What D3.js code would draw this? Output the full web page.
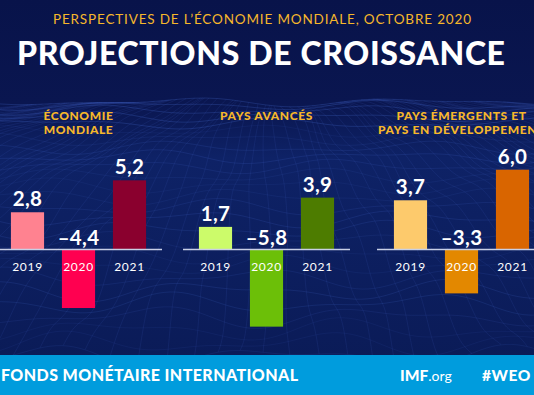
<!DOCTYPE html>
<html><head><meta charset="utf-8">
<script src="https://cdn.jsdelivr.net/npm/d3@7"></script>
<style>html,body{margin:0;padding:0;background:#0a1547;overflow:hidden}svg{display:block}</style>
</head><body>
<svg id="chart" width="534" height="395"></svg>
<script>
// ---- data ----
const years = ["2019", "2020", "2021"];
const groupTitles = [["ÉCONOMIE", "MONDIALE"], ["PAYS AVANCÉS"], ["PAYS ÉMERGENTS ET", "PAYS EN DÉVELOPPEMENT"]];
const worldValues = [2.8, -4.4, 5.2];
const advancedValues = [1.7, -5.8, 3.9];
const emergingValues = [3.7, -3.3, 6.0];
const valueLabels = [["2,8", "–4,4", "5,2"], ["1,7", "–5,8", "3,9"], ["3,7", "–3,3", "6,0"]];
const barColors = [["#ff8290", "#ff0050", "#8a002e"], ["#ccfb6a", "#6cbf08", "#4d7c00"], ["#fdca6c", "#e38800", "#d96500"]];

const svg = d3.select("#chart");
const W = 534, H = 395;
const FONT = "Lato, 'Open Sans', sans-serif";

// stretch a text to a target width with letter-spacing (anchor start)
function fit(sel, target) {
  const n = sel.text().length;
  const len = sel.node().getComputedTextLength();
  sel.attr("letter-spacing", Math.max(0, (target - len) / (n - 1)));
  return sel;
}

// background
const bg = svg.append("defs").append("linearGradient").attr("id", "bgGrad")
  .attr("x1", 0).attr("y1", 0).attr("x2", 0).attr("y2", 1);
bg.append("stop").attr("offset", "0%").attr("stop-color", "#08134a");
bg.append("stop").attr("offset", "26%").attr("stop-color", "#0a1650");
bg.append("stop").attr("offset", "40%").attr("stop-color", "#0e2266");
bg.append("stop").attr("offset", "100%").attr("stop-color", "#0a1a55");
svg.append("rect").attr("width", W).attr("height", H).attr("fill", "url(#bgGrad)");

// decorative wireframe mesh
const mesh = svg.append("g").attr("fill", "none").attr("stroke", "#4468cc").attr("stroke-width", 0.6);
const wave = (x, r) => 6 * Math.sin(x / 38 + r * 0.9) + 4 * Math.cos(x / 23 - r * 0.5);
const rows = d3.range(0, 26);
const line = d3.line().curve(d3.curveBasis);
rows.forEach(r => {
  const yb = 102 + Math.pow(r / 25, 1.35) * 255;
  const pts = d3.range(-10, W + 20, 12).map(x => [x, yb + wave(x, r) * (0.5 + r / 30)]);
  mesh.append("path").attr("d", line(pts)).attr("opacity", r < 5 ? 0.45 : 0.22 + 0.08 * Math.sin(r));
});
d3.range(-30, 60).forEach(c => {
  const pts = rows.map(r => {
    const yb = 102 + Math.pow(r / 25, 1.35) * 255;
    const spread = 6 + r * 0.9;
    const x = W / 2 + (c - 15) * spread * 0.9 + 4 * Math.sin(r / 3 + c);
    return [x, yb + wave(x, r) * (0.5 + r / 30)];
  });
  mesh.append("path").attr("d", line(pts)).attr("opacity", 0.22);
});

// titles
fit(svg.append("text").attr("x", 53).attr("y", 24)
  .attr("font-family", FONT).attr("font-size", 13.5)
  .attr("fill", "#f6b72b").text("PERSPECTIVES DE L’ÉCONOMIE MONDIALE, OCTOBRE 2020"), 418);
fit(svg.append("text").attr("x", 17).attr("y", 65)
  .attr("font-family", FONT).attr("font-weight", 900).attr("font-size", 32)
  .attr("fill", "#ffffff").text("PROJECTIONS DE CROISSANCE"), 488);

// panels
const panelValues = [worldValues, advancedValues, emergingValues];
const panelX = [2, 190, 385];
const baselineSpan = [[0, 162], [183, 350], [377, 540]];
const y = d3.scaleLinear().domain([-6, 6]).range([329.3, 169.7]);
const x = d3.scaleBand().domain(years).range([0, 153]).paddingInner(0.35).paddingOuter(0.175);

panelValues.forEach((vals, p) => {
  const g = svg.append("g").attr("transform", `translate(${panelX[p]},0)`);
  const cx = panelX[p] + 76.5;
  // panel title
  groupTitles[p].forEach((t, i) => {
    svg.append("text").attr("x", cx).attr("y", 120 + i * 13.5).attr("text-anchor", "middle")
      .attr("font-family", FONT).attr("font-weight", 900)
      .attr("font-size", 12).attr("letter-spacing", 0.6).attr("fill", "#f6b72b").text(t);
  });
  // bars
  g.selectAll("rect.bar").data(vals).join("rect").attr("class", "bar")
    .attr("x", (d, i) => x(years[i])).attr("width", x.bandwidth())
    .attr("y", d => y(Math.max(0, d))).attr("height", d => Math.abs(y(d) - y(0)))
    .attr("fill", (d, i) => barColors[p][i]);
  // baseline
  svg.append("line").attr("x1", baselineSpan[p][0]).attr("x2", baselineSpan[p][1])
    .attr("y1", y(0)).attr("y2", y(0)).attr("stroke", "#c8cfe6").attr("stroke-width", 1.3);
  // year labels (axis)
  const axis = d3.axisBottom(x).tickSize(0).tickPadding(0);
  const ag = g.append("g").attr("transform", `translate(0,${y(0) + 21})`).call(axis);
  ag.select(".domain").remove();
  ag.selectAll("text").attr("font-family", FONT).attr("font-size", 12)
    .attr("letter-spacing", 0.7).attr("fill", "#ffffff").attr("dy", 0).attr("y", 0);
  // value labels
  g.selectAll("text.val").data(vals).join("text").attr("class", "val")
    .attr("x", (d, i) => x(years[i]) + x.bandwidth() / 2)
    .attr("y", d => d >= 0 ? y(d) - 6 : y(0) - 5)
    .attr("text-anchor", "middle").attr("font-family", FONT)
    .attr("font-weight", 700).attr("font-size", 20.5).attr("letter-spacing", 0.3).attr("fill", "#ffffff")
    .text((d, i) => valueLabels[p][i]);
});

// footer
svg.append("rect").attr("x", 0).attr("y", 355).attr("width", W).attr("height", 40).attr("fill", "#009cdd");
fit(svg.append("text").attr("x", 1).attr("y", 381)
  .attr("font-family", FONT).attr("font-weight", 900).attr("font-size", 16)
  .attr("fill", "#ffffff").text("FONDS MONÉTAIRE INTERNATIONAL"), 297);
const imf = svg.append("text").attr("x", 400).attr("y", 381)
  .attr("font-family", FONT).attr("font-size", 15.5).attr("fill", "#ffffff");
imf.append("tspan").attr("font-weight", 900).text("IMF");
imf.append("tspan").attr("font-weight", 400).attr("font-size", 14).text(".org");
svg.append("text").attr("x", 482).attr("y", 381)
  .attr("font-family", FONT).attr("font-weight", 900).attr("font-size", 15.5)
  .attr("letter-spacing", 0.6).attr("fill", "#ffffff").text("#WEO");
</script>
</body></html>
